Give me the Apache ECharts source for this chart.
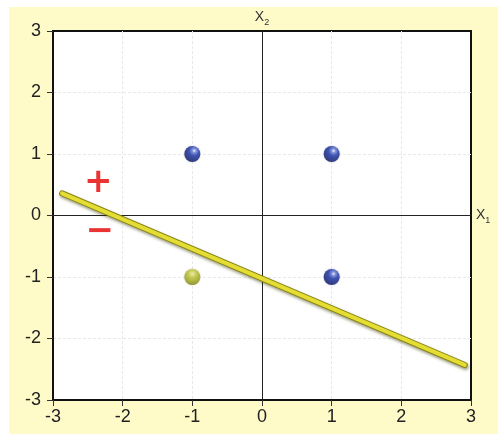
<!DOCTYPE html>
<html>
<head>
<meta charset="utf-8">
<script src="https://cdn.jsdelivr.net/npm/echarts@6/dist/echarts.min.js"></script>
<style>
html,body{margin:0;padding:0;background:#fff;}
#wrap{position:relative;width:498px;height:437px;background:#fff;overflow:hidden;}
#c{position:absolute;left:9px;top:7px;width:489px;height:427px;background:#fffbc9;}
</style>
</head>
<body>
<div id="wrap"><div id="c"></div></div>
<script>
// Data
const axisTicks = [-3, -2, -1, 0, 1, 2, 3];
const positiveX = [-1, 1, 1];
const positiveY = [1, 1, -1];
const negativeX = [-1];
const negativeY = [-1];
const boundaryX = [-2.87, 2.91];
const boundaryY = [0.36, -2.43];
const signLabels = ['+', '−'];
const signX = [-2.35, -2.33];
const signY = [0.52, -0.27];

const zip = (a, b) => a.map((v, i) => [v, b[i]]);

const blueBall = {
  type: 'radial', x: 0.62, y: 0.3, r: 0.8,
  colorStops: [
    {offset: 0, color: '#ffffff'},
    {offset: 0.15, color: '#7088e0'},
    {offset: 0.4, color: '#1d36a8'},
    {offset: 1, color: '#081258'}
  ]
};
const oliveBall = {
  type: 'radial', x: 0.5, y: 0.3, r: 0.8,
  colorStops: [
    {offset: 0, color: '#f4f6a0'},
    {offset: 0.3, color: '#c4ca3a'},
    {offset: 0.7, color: '#9aa018'},
    {offset: 1, color: '#5e6206'}
  ]
};

const chart = echarts.init(document.getElementById('c'));
const labelFont = {fontFamily: 'Liberation Sans, Arial, sans-serif', fontSize: 18, color: '#222'};

chart.setOption({
  animation: false,
  grid: {left: 44, top: 24, right: 27, bottom: 34, show: true, backgroundColor: '#ffffff',
         borderColor: '#111', borderWidth: 2},
  xAxis: [{
    type: 'value', min: -3, max: 3, interval: 1, position: 'bottom',
    axisLine: {show: true, onZero: false, lineStyle: {color: '#111', width: 2}},
    axisTick: {show: true, length: 6, lineStyle: {color: '#333'}},
    axisLabel: Object.assign({margin: 8, formatter: v => axisTicks.includes(v) ? String(v) : ''}, labelFont),
    splitLine: {show: true, showMinLine: false, showMaxLine: false, lineStyle: {color: '#e8e8e8', type: [3, 2]}}
  }, {
    type: 'value', min: -3, max: 3, interval: 1,
    axisLine: {show: true, onZero: true, onZeroAxisIndex: 0, lineStyle: {color: '#222', width: 1}},
    axisTick: {show: false}, axisLabel: {show: false}, splitLine: {show: false},
    name: 'X{s|1}', nameLocation: 'end', nameGap: 5,
    nameTextStyle: {fontFamily: 'Liberation Sans, Arial, sans-serif', fontSize: 14, color: '#333',
      rich: {s: {fontSize: 9, padding: [10, 0, 0, 0], color: '#333'}}}
  }],
  yAxis: [{
    type: 'value', min: -3, max: 3, interval: 1, position: 'left',
    axisLine: {show: true, onZero: false, lineStyle: {color: '#111', width: 2}},
    axisTick: {show: true, length: 6, lineStyle: {color: '#333'}},
    axisLabel: Object.assign({margin: 12}, labelFont),
    splitLine: {show: true, showMinLine: false, showMaxLine: false, lineStyle: {color: '#e8e8e8', type: [3, 2]}}
  }, {
    type: 'value', min: -3, max: 3, interval: 1,
    axisLine: {show: true, onZero: true, onZeroAxisIndex: 0, lineStyle: {color: '#222', width: 1}},
    axisTick: {show: false}, axisLabel: {show: false}, splitLine: {show: false},
    name: 'X{s|2}', nameLocation: 'end', nameGap: 4,
    nameTextStyle: {fontFamily: 'Liberation Sans, Arial, sans-serif', fontSize: 14, color: '#333',
      rich: {s: {fontSize: 9, padding: [10, 0, 0, 0], color: '#333'}}}
  }],
  series: [{
    type: 'line', xAxisIndex: 0, yAxisIndex: 0, data: zip(boundaryX, boundaryY),
    symbol: 'none', z: 3,
    lineStyle: {width: 6, color: '#8a8414', cap: 'round',
      shadowColor: 'rgba(60,60,0,0.5)', shadowBlur: 3, shadowOffsetX: 1, shadowOffsetY: 2}
  }, {
    type: 'line', xAxisIndex: 0, yAxisIndex: 0, data: zip(boundaryX, boundaryY),
    symbol: 'none', z: 3,
    lineStyle: {width: 4, color: '#e4de34', cap: 'round'}
  }, {
    type: 'scatter', data: zip(positiveX, positiveY), symbolSize: 16, z: 4,
    itemStyle: {color: blueBall, shadowColor: 'rgba(0,0,40,0.3)', shadowBlur: 2}
  }, {
    type: 'scatter', data: zip(negativeX, negativeY), symbolSize: 16, z: 4,
    itemStyle: {color: oliveBall, shadowColor: 'rgba(40,40,0,0.3)', shadowBlur: 2}
  }, {
    type: 'scatter', data: zip(signX, signY).map((p, i) => ({value: p, name: signLabels[i]})),
    symbolSize: 1, itemStyle: {color: 'rgba(0,0,0,0)'}, z: 5,
    label: {show: true, position: 'inside', formatter: p => p.name,
      fontFamily: 'DejaVu Sans, sans-serif', fontSize: 34, fontWeight: 'bold', color: '#e60000'}
  }]
});
</script>
</body>
</html>
